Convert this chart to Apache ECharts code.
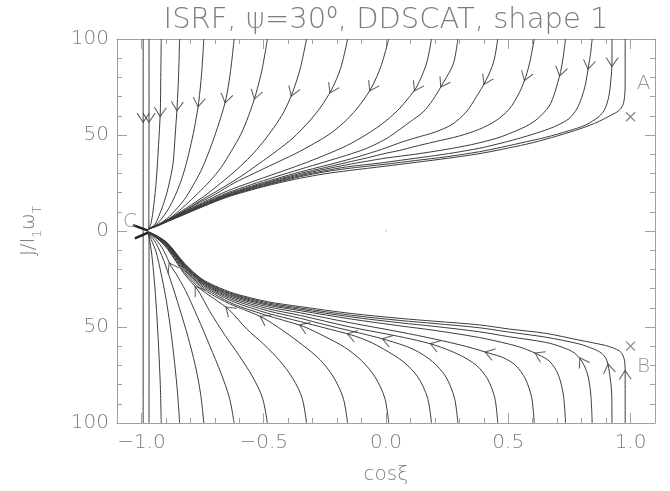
<!DOCTYPE html>
<html><head><meta charset="utf-8">
<script src="https://cdn.jsdelivr.net/npm/echarts@6/dist/echarts.min.js"></script>
<style>html,body{margin:0;padding:0;background:#fff}#c{width:670px;height:491px}</style>
</head><body><div id="c"></div>
<script>
// ---------- axis ticks ----------
const xMajorTicks = [-1.0, -0.5, 0.0, 0.5, 1.0];
const xTickLabels = ['\u22121.0', '\u22120.5', '0.0', '0.5', '1.0'];
const xMinorTicks = [-0.9, -0.8, -0.7, -0.6, -0.4, -0.3, -0.2, -0.1, 0.1, 0.2, 0.3, 0.4, 0.6, 0.7, 0.8, 0.9];
const yMajorTicks = [-100, -50, 0, 50, 100];
const yTickLabels = ['100', '50', '0', '50', '100'];
const yMinorTicks = [-90, -80, -70, -60, -40, -30, -20, -10, 10, 20, 30, 40, 60, 70, 80, 90];

// ---------- upper trajectories (cos xi, J) ----------
const u01 = [[-0.993,100],[-0.993,59],[-0.993,0]];
const u02 = [[-0.969,100],[-0.969,59],[-0.970,1.5]];
const u03 = [[-0.919,100],[-0.921,80],[-0.923,62],[-0.930,45],[-0.939,27],[-0.950,13],[-0.961,4],[-0.972,1]];
const u04 = [[-0.844,100],[-0.848,82],[-0.854,65],[-0.862,50],[-0.871,35],[-0.888,24],[-0.905,16],[-0.925,9],[-0.945,3.5],[-0.972,1]];
const u05 = [[-0.745,100],[-0.754,82],[-0.766,67],[-0.780,56],[-0.797,45.5],[-0.817,35],[-0.837,26.5],[-0.862,18.5],[-0.892,11],[-0.920,6],[-0.945,2.8],[-0.972,1]];
const u06 = [[-0.621,100],[-0.636,83],[-0.654,69],[-0.676,59],[-0.702,49],[-0.728,40],[-0.756,31.5],[-0.790,23.5],[-0.824,16.5],[-0.860,11],[-0.895,6.5],[-0.930,3.5],[-0.972,1]];
const u07 = [[-0.485,100],[-0.507,84],[-0.533,71],[-0.562,60],[-0.593,50.5],[-0.633,41.5],[-0.675,33],[-0.720,26],[-0.770,19.5],[-0.820,13.5],[-0.870,8],[-0.910,4.6],[-0.945,2.4],[-0.972,1]];
const u08 = [[-0.325,100],[-0.350,85],[-0.381,72.5],[-0.418,62],[-0.458,54],[-0.505,46],[-0.553,39],[-0.610,32],[-0.675,25],[-0.745,18],[-0.810,12.5],[-0.870,7.5],[-0.910,4.4],[-0.945,2.3],[-0.972,1]];
const u09 = [[-0.157,100],[-0.185,85],[-0.221,74],[-0.270,64],[-0.322,56],[-0.380,48.5],[-0.444,42],[-0.520,35],[-0.593,28.5],[-0.675,22],[-0.756,16],[-0.830,10.2],[-0.880,6.6],[-0.920,3.9],[-0.950,2.2],[-0.972,1]];
const u10 = [[0.011,100],[-0.020,86],[-0.058,75],[-0.105,66],[-0.160,58],[-0.225,51],[-0.295,45.5],[-0.375,40],[-0.458,35],[-0.540,30],[-0.621,25],[-0.700,19],[-0.783,13.5],[-0.850,8.5],[-0.900,5.2],[-0.935,3.1],[-0.972,1]];
const u11 = [[0.186,100],[0.165,87],[0.125,75],[0.090,69],[0.057,64],[0.015,59],[-0.024,55],[-0.090,49.5],[-0.160,44.5],[-0.250,39.5],[-0.350,34.5],[-0.450,30],[-0.550,25.5],[-0.650,20.8],[-0.750,14.8],[-0.830,9.7],[-0.890,5.8],[-0.935,3.0],[-0.972,1]];
const u12 = [[0.294,100],[0.275,87],[0.233,77],[0.190,68],[0.152,62],[0.100,57],[0.057,53],[0.000,48],[-0.080,43],[-0.160,39.5],[-0.250,36],[-0.350,32.2],[-0.450,28.3],[-0.550,24.2],[-0.650,19.8],[-0.750,14.3],[-0.830,9.5],[-0.890,5.7],[-0.935,2.95],[-0.972,1]];
const u13 = [[0.457,100],[0.440,88],[0.409,78.5],[0.370,70],[0.328,62],[0.270,55.5],[0.200,51.5],[0.120,48.5],[0.057,46],[0.000,43.3],[-0.080,40],[-0.160,37],[-0.250,34],[-0.350,30.8],[-0.450,27.2],[-0.550,23.4],[-0.650,19.2],[-0.750,13.9],[-0.830,9.2],[-0.890,5.6],[-0.935,2.9],[-0.972,1]];
const u14 = [[0.606,100],[0.590,89],[0.572,80.5],[0.545,72],[0.504,63.5],[0.450,57.5],[0.382,53],[0.300,49.5],[0.200,46.5],[0.111,43.8],[0.057,42],[0.000,40.5],[-0.080,38],[-0.160,35.7],[-0.250,33],[-0.350,30],[-0.450,26.6],[-0.550,22.9],[-0.650,18.8],[-0.750,13.6],[-0.830,9],[-0.890,5.5],[-0.935,2.85],[-0.972,1]];
const u15 = [[0.734,100],[0.724,90],[0.714,83],[0.690,72],[0.667,65],[0.620,58.5],[0.572,54.5],[0.500,50.5],[0.450,48.2],[0.350,45],[0.246,42.5],[0.120,40],[0.000,38],[-0.080,36.3],[-0.160,34.5],[-0.250,32.2],[-0.350,29.4],[-0.450,26.1],[-0.550,22.5],[-0.650,18.5],[-0.750,13.3],[-0.830,8.8],[-0.890,5.4],[-0.935,2.8],[-0.972,1]];
const u16 = [[0.843,100],[0.836,92],[0.829,86.5],[0.815,76],[0.800,69.5],[0.780,63.5],[0.748,58.5],[0.700,55],[0.653,52.6],[0.580,49.6],[0.518,47.3],[0.450,45.1],[0.382,43.1],[0.280,40.8],[0.179,38.9],[0.057,36.8],[-0.024,35.4],[-0.160,33.4],[-0.250,31.4],[-0.350,28.8],[-0.450,25.6],[-0.550,22.1],[-0.650,18.2],[-0.750,13.1],[-0.830,8.6],[-0.890,5.3],[-0.935,2.75],[-0.972,1]];
const u17 = [[0.924,100],[0.924,88],[0.919,78],[0.911,70],[0.895,63.5],[0.870,59.5],[0.816,55.2],[0.750,52.3],[0.653,48.8],[0.550,45.8],[0.450,43],[0.382,41.3],[0.250,38.7],[0.120,36.7],[0.000,34.8],[-0.160,32.5],[-0.250,30.8],[-0.350,28.3],[-0.450,25.2],[-0.550,21.8],[-0.650,18],[-0.750,12.9],[-0.830,8.5],[-0.890,5.2],[-0.935,2.7],[-0.972,1]];
const u18 = [[0.978,100],[0.978,80],[0.977,72],[0.972,67],[0.962,64],[0.945,62],[0.920,60.3],[0.870,57],[0.800,53.5],[0.700,49.5],[0.600,46],[0.500,43.2],[0.400,40.7],[0.300,38.7],[0.200,37],[0.100,35.4],[0.000,33.8],[-0.150,31.5],[-0.250,29.8],[-0.350,27.5],[-0.450,24.7],[-0.550,21.4],[-0.650,17.6],[-0.750,12.6],[-0.830,8.3],[-0.890,5.1],[-0.935,2.6],[-0.972,1]];

// ---------- lower trajectories ----------
const l01 = [[-0.993,-100],[-0.993,0]];
const l02 = [[-0.969,-100],[-0.969,-1]];
const l03 = [[-0.919,-100],[-0.923,-80],[-0.930,-60],[-0.938,-42],[-0.948,-25],[-0.958,-12],[-0.967,-4.5],[-0.973,-1]];
const l04 = [[-0.844,-100],[-0.852,-85],[-0.865,-68],[-0.882,-50],[-0.900,-35],[-0.920,-22],[-0.940,-11],[-0.960,-4.5],[-0.973,-1]];
const l05 = [[-0.745,-100],[-0.758,-85],[-0.780,-70],[-0.810,-55],[-0.845,-40],[-0.880,-26],[-0.910,-15],[-0.940,-6.5],[-0.973,-0.8]];
const l06 = [[-0.621,-100],[-0.640,-87],[-0.675,-74],[-0.720,-60],[-0.770,-45],[-0.820,-31],[-0.860,-22],[-0.878,-18.6],[-0.910,-10],[-0.940,-4.5],[-0.973,-0.7]];
const l07 = [[-0.485,-100],[-0.505,-87],[-0.545,-76],[-0.600,-65],[-0.660,-54],[-0.720,-42],[-0.770,-30.7],[-0.824,-22.5],[-0.892,-9.7],[-0.930,-4.5],[-0.973,-0.6]];
const l08 = [[-0.325,-100],[-0.343,-87],[-0.380,-77],[-0.435,-67.5],[-0.500,-59],[-0.570,-51],[-0.641,-41.1],[-0.700,-35.5],[-0.756,-30.5],[-0.824,-21.5],[-0.892,-9.2],[-0.930,-4.3],[-0.973,-0.6]];
const l09 = [[-0.157,-100],[-0.175,-87],[-0.215,-76],[-0.270,-67],[-0.340,-59.5],[-0.420,-52],[-0.499,-45.5],[-0.570,-41.5],[-0.621,-39],[-0.700,-34],[-0.756,-29.3],[-0.824,-20.5],[-0.892,-8.7],[-0.930,-4],[-0.973,-0.55]];
const l10 = [[0.011,-100],[-0.005,-87],[-0.045,-76],[-0.100,-67.5],[-0.170,-60.5],[-0.250,-55],[-0.336,-49.8],[-0.420,-46.5],[-0.500,-43.5],[-0.621,-38.2],[-0.700,-33],[-0.756,-28.4],[-0.824,-19.8],[-0.892,-8.3],[-0.930,-3.8],[-0.973,-0.5]];
const l11 = [[0.186,-100],[0.170,-87],[0.130,-76],[0.070,-68],[-0.010,-61.5],[-0.070,-57.5],[-0.140,-54.2],[-0.250,-50.5],[-0.350,-47.2],[-0.485,-42.8],[-0.621,-37],[-0.700,-32.1],[-0.756,-27.6],[-0.824,-19.2],[-0.892,-8],[-0.930,-3.7],[-0.973,-0.5]];
const l12 = [[0.294,-100],[0.280,-87],[0.245,-76],[0.190,-68],[0.110,-61.5],[0.003,-56.8],[-0.080,-54],[-0.146,-52],[-0.250,-48.8],[-0.350,-45.5],[-0.485,-41.5],[-0.621,-36.1],[-0.700,-31.4],[-0.756,-27],[-0.824,-18.8],[-0.892,-7.7],[-0.930,-3.6],[-0.973,-0.5]];
const l13 = [[0.457,-100],[0.445,-87],[0.415,-77],[0.370,-70],[0.300,-64.5],[0.199,-59.4],[0.100,-56.2],[0.000,-53.6],[-0.146,-50],[-0.350,-44],[-0.485,-40.4],[-0.621,-35.3],[-0.700,-30.8],[-0.756,-26.5],[-0.824,-18.4],[-0.892,-7.5],[-0.930,-3.5],[-0.973,-0.45]];
const l14 = [[0.606,-100],[0.596,-87],[0.570,-77],[0.530,-70],[0.480,-66],[0.423,-63.7],[0.330,-60.2],[0.200,-56.3],[0.057,-52.6],[-0.146,-47.8],[-0.350,-42.6],[-0.485,-39.4],[-0.621,-34.6],[-0.700,-30.3],[-0.756,-26.1],[-0.824,-18.1],[-0.892,-7.3],[-0.930,-3.4],[-0.973,-0.45]];
const l15 = [[0.734,-100],[0.726,-86],[0.705,-75],[0.670,-68],[0.626,-64.6],[0.560,-61],[0.500,-58.8],[0.382,-55.5],[0.200,-51.8],[0.057,-49.4],[-0.146,-45.8],[-0.350,-41.5],[-0.485,-38.6],[-0.621,-34],[-0.700,-29.8],[-0.756,-25.7],[-0.824,-17.8],[-0.892,-7.1],[-0.930,-3.3],[-0.973,-0.4]];
const l16 = [[0.843,-100],[0.838,-86],[0.825,-75],[0.802,-68.1],[0.770,-63.5],[0.720,-60.5],[0.653,-58],[0.500,-55],[0.382,-52.5],[0.200,-49.7],[0.057,-47.8],[-0.146,-44.7],[-0.350,-40.8],[-0.485,-38],[-0.621,-33.5],[-0.700,-29.4],[-0.756,-25.4],[-0.824,-17.5],[-0.892,-6.9],[-0.930,-3.2],[-0.973,-0.4]];
const l17 = [[0.924,-100],[0.923,-85],[0.911,-71.6],[0.900,-66.5],[0.880,-63.5],[0.850,-61.5],[0.789,-58.8],[0.653,-55.3],[0.500,-52.6],[0.382,-50.4],[0.200,-48.2],[0.057,-46.6],[-0.146,-43.8],[-0.350,-40.1],[-0.485,-37.4],[-0.621,-33],[-0.700,-29],[-0.756,-25.1],[-0.824,-17.2],[-0.892,-6.7],[-0.930,-3.1],[-0.973,-0.35]];
const l18 = [[0.978,-100],[0.978,-85],[0.978,-75],[0.976,-68],[0.968,-64.5],[0.955,-62.5],[0.930,-61],[0.897,-59.6],[0.789,-56.8],[0.653,-53.3],[0.500,-51],[0.382,-48.9],[0.200,-47],[0.057,-45.5],[-0.146,-42.9],[-0.350,-39.4],[-0.485,-36.8],[-0.621,-32.5],[-0.700,-28.5],[-0.756,-24.7],[-0.824,-16.8],[-0.892,-6.4],[-0.930,-3],[-0.973,-0.3]];

// vertex index of the arrow head on each trajectory (-1: none)
const upperArrowIdx = [1,1,2,2,2,2,2,2,2,2,2,2,2,2,2,2,1,-1];
const lowerArrowIdx = [-1,-1,-1,-1,-1,7,6,6,6,6,6,5,5,5,4,3,2,2];

// short thick stubs at point C
const stubC1 = [[-1.034,3.1],[-0.973,0.2]];
const stubC2 = [[-1.027,-3.8],[-0.973,-0.8]];

// special points and labels
const crossPoints = [[1.0,59.5],[1.0,-60]];
const labelNames = ['A','B','C'];
const labelPoints = [[1.053,76.9],[1.053,-70.7],[-1.047,4.8]];
const originDot = [[0,0]];

const upperCurves = [u01,u02,u03,u04,u05,u06,u07,u08,u09,u10,u11,u12,u13,u14,u15,u16,u17,u18];
const lowerCurves = [l01,l02,l03,l04,l05,l06,l07,l08,l09,l10,l11,l12,l13,l14,l15,l16,l17,l18];

// ---------- styling ----------
const FONT = 'DejaVu Sans';
const axisColor = '#a0a0a0';
const textColor = '#7c7c7c';
const lineColor = '#3c3c3c';

const chart = echarts.init(document.getElementById('c'));

function fmtFrom(ticks, labels) {
  return function (v) {
    const i = ticks.findIndex(t => Math.abs(t - v) < 1e-9);
    return i >= 0 ? labels[i] : '';
  };
}
const tickText = {fontFamily: FONT, fontSize: 20, fontWeight: 200, color: textColor};

function baseAxis(pos, ticks, len, withLine) {
  return {
    position: pos, gridIndex: 0,
    splitLine: {show: false},
    axisLabel: {show: false},
    axisLine: {show: withLine, onZero: false, lineStyle: {color: axisColor, width: 1}},
    axisTick: {show: true, inside: true, length: len, customValues: ticks, lineStyle: {color: axisColor, width: 1}}
  };
}
function xAx(pos, ticks, len, withLine, withLabels) {
  const ax = {type: 'value', min: -1.1, max: 1.1, ...baseAxis(pos, ticks, len, withLine)};
  if (withLabels) {
    ax.axisLabel = {show: true, customValues: xMajorTicks, formatter: fmtFrom(xMajorTicks, xTickLabels), margin: 10, ...tickText};
    ax.name = 'cos\u03BE';
    ax.nameLocation = 'middle';
    ax.nameGap = 42;
    ax.nameTextStyle = {...tickText};
  }
  return ax;
}
function yAx(pos, ticks, len, withLine, withLabels) {
  const ax = {type: 'value', min: -100, max: 100, ...baseAxis(pos, ticks, len, withLine)};
  if (withLabels) {
    ax.axisLabel = {show: true, customValues: yMajorTicks, formatter: fmtFrom(yMajorTicks, yTickLabels), margin: 8, ...tickText};
    ax.name = '{m|J/I}{s|1}{m|\u03C9}{s|T}';
    ax.nameLocation = 'middle';
    ax.nameGap = 73;
    ax.nameRotate = 90;
    ax.nameTextStyle = {...tickText, rich: {
      m: {fontFamily: FONT, fontSize: 20, fontWeight: 200, color: textColor, lineHeight: 30},
      s: {fontFamily: FONT, fontSize: 12, fontWeight: 200, color: textColor, lineHeight: 12, verticalAlign: 'bottom'}
    }};
  }
  return ax;
}

function curve(pts) {
  return {type: 'line', data: pts, xAxisIndex: 0, yAxisIndex: 0, symbol: 'none', showSymbol: false,
    smooth: 0.3, silent: true, animation: false,
    lineStyle: {color: lineColor, width: 1}, z: 2};
}

const series = [];
upperCurves.forEach(c => series.push(curve(c)));
lowerCurves.forEach(c => series.push(curve(c)));
[stubC1, stubC2].forEach(c => series.push({type: 'line', data: c, symbol: 'none', silent: true, animation: false,
  lineStyle: {color: '#222', width: 2.5}, z: 3}));
series.push({type: 'scatter', data: crossPoints, symbol: 'path://M0,0L10,10M0,10L10,0', symbolSize: 9,
  itemStyle: {color: 'none', borderColor: '#666', borderWidth: 1.2}, silent: true, animation: false, z: 4});
series.push({type: 'scatter', data: originDot, symbolSize: 2, itemStyle: {color: '#c8c8c8'}, silent: true, animation: false});
series.push({type: 'scatter', data: labelPoints.map((p, i) => ({value: p, name: labelNames[i]})), symbolSize: 1,
  itemStyle: {color: 'rgba(0,0,0,0)'}, silent: true, animation: false,
  label: {show: true, position: 'inside', formatter: '{b}', ...tickText}, z: 5});
series.push({id: 'arrows', type: 'scatter', data: [], symbol: 'path://M0,0L6,9L12,0', symbolSize: [12, 9],
  itemStyle: {color: 'none', borderColor: lineColor, borderWidth: 1}, silent: true, animation: false, z: 4});

chart.setOption({
  animation: false,
  backgroundColor: '#ffffff',
  grid: {left: 117, right: 15, top: 39, bottom: 68, containLabel: false, outerBoundsMode: 'none'},
  xAxis: [xAx('bottom', xMajorTicks, 10, true, true), xAx('bottom', xMinorTicks, 5, false, false),
          xAx('top', xMajorTicks, 10, true, false), xAx('top', xMinorTicks, 5, false, false)],
  yAxis: [yAx('left', yMajorTicks, 10, true, true), yAx('left', yMinorTicks, 5, false, false),
          yAx('right', yMajorTicks, 10, true, false), yAx('right', yMinorTicks, 5, false, false)],
  graphic: [{type: 'text', x: 386, y: 20, silent: true,
    style: {text: 'ISRF, \u03C8=30\u2070, DDSCAT, shape 1', fontFamily: FONT, fontSize: 29, fontWeight: 200,
      fill: textColor, align: 'center', verticalAlign: 'middle'}}],
  series: series
});

// orient arrow heads along the drawn trajectories
const arrows = [];
function addArrows(curves, idxs) {
  curves.forEach((pts, ci) => {
    const k = idxs[ci];
    if (k < 0) return;
    const a = chart.convertToPixel({gridIndex: 0}, pts[Math.max(k - 1, 0)]);
    const b = chart.convertToPixel({gridIndex: 0}, pts[Math.min(k + 1, pts.length - 1)]);
    const ang = Math.atan2(-(b[1] - a[1]), b[0] - a[0]) * 180 / Math.PI + 90;
    arrows.push({value: pts[k], symbolRotate: ang});
  });
}
addArrows(upperCurves, upperArrowIdx);
addArrows(lowerCurves, lowerArrowIdx);
chart.setOption({series: [{id: 'arrows', data: arrows}]});
</script></body></html>
